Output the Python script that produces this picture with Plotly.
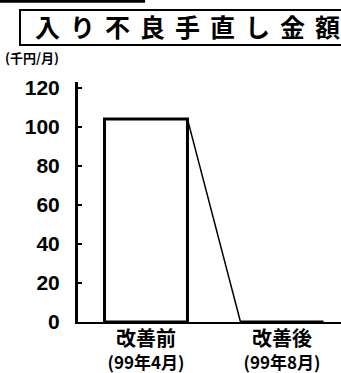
import plotly.graph_objects as go

cat_names = ["改善前", "改善後"]
cat_periods = ["(99年4月)", "(99年8月)"]
values = [104, 0]
y_ticks = [0, 20, 40, 60, 80, 100, 120]
title_text = "入り不良手直し金額"
unit_text = "(千円/月)"

xpos = [0, 1]
bar_w = 0.61
categories = [f"<span style='font-size:20px'>{n}</span><br><span style='font-size:17px'>{p}</span>"
              for n, p in zip(cat_names, cat_periods)]

fig = go.Figure()
fig.add_trace(go.Bar(
    x=xpos, y=values, width=bar_w,
    marker=dict(color="white", line=dict(color="black", width=3)),
    showlegend=False,
))
# series connector line from bar top-right to next bar top-left
fig.add_trace(go.Scatter(
    x=[xpos[0] + bar_w / 2, xpos[1] - bar_w / 2], y=values,
    mode="lines", line=dict(color="black", width=1.5), showlegend=False,
))

fig.update_layout(
    width=341, height=373,
    margin=dict(l=78, r=0, t=82, b=51, autoexpand=False),
    paper_bgcolor="white", plot_bgcolor="white",
    font=dict(family="Noto Sans CJK JP", color="black"),
    xaxis=dict(
        range=[-0.5, 1.434], tickvals=xpos, ticktext=categories,
        tickfont=dict(size=18, family="Noto Sans CJK JP", weight="bold"),
        showgrid=False, zeroline=False, showline=True, linecolor="black", linewidth=2,
        ticks="", automargin=False, ticklabelstandoff=0,
    ),
    yaxis=dict(
        range=[0, 123], tickvals=y_ticks,
        tickfont=dict(size=21, family="Liberation Sans", weight="bold"),
        showgrid=False, zeroline=False, showline=True, linecolor="black", linewidth=3,
        ticks="inside", ticklen=4, tickwidth=2, tickcolor="black",
        ticklabelstandoff=11, automargin=False,
    ),
    shapes=[
        dict(type="rect", xref="paper", yref="paper", x0=-0.2205, x1=1.02, y0=1.154, y1=1.3,
             line=dict(color="black", width=2), fillcolor="rgba(0,0,0,0)"),
        dict(type="line", xref="paper", yref="paper", x0=-0.2966, x1=0.255, y0=1.336, y1=1.336,
             line=dict(color="black", width=3)),
    ],
    annotations=[
        dict(text="\u2009\u2009".join(title_text), xref="paper", yref="paper", x=0.418, y=1.233,
             showarrow=False, xanchor="center", yanchor="middle",
             font=dict(size=25, family="Noto Sans CJK JP", weight="bold")),
        dict(text=unit_text, xref="paper", yref="paper", x=-0.175, y=1.1,
             showarrow=False, xanchor="center", yanchor="middle",
             font=dict(size=13, family="Noto Sans CJK JP", weight="bold")),
    ],
)

fig.write_html("out.html", config={"displayModeBar": False},
               post_script="document.body.style.margin='0';document.body.style.padding='0';")
